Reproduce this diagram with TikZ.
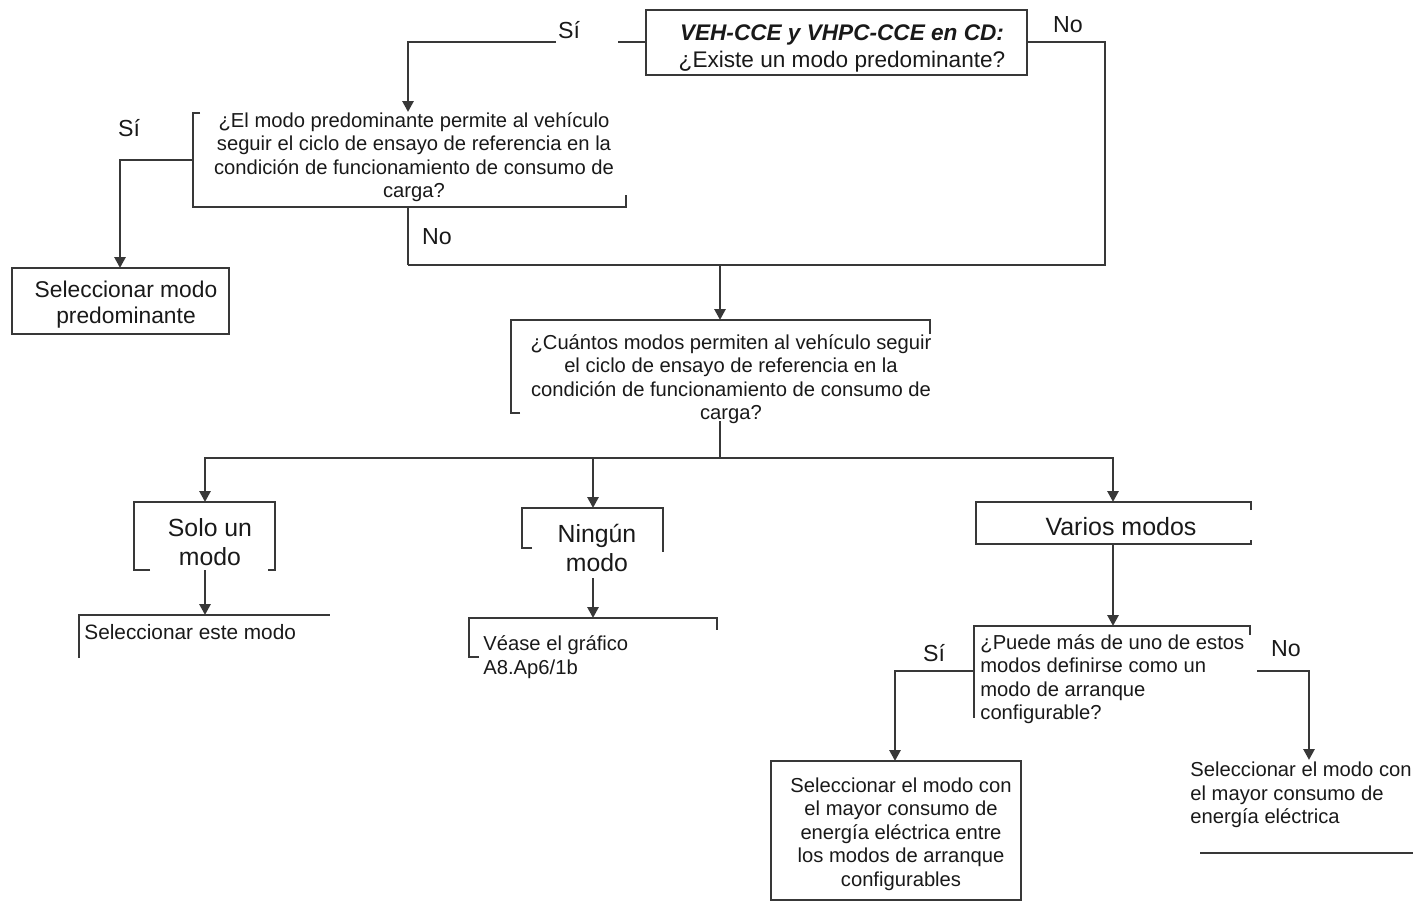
\documentclass[tikz,border=0pt]{standalone}
\usepackage{fontspec}
\setmainfont{Liberation Sans}
\usetikzlibrary{arrows.meta}
\begin{document}
\begin{tikzpicture}[x=0.5pt,y=-0.5pt,
  ln/.style={draw=black!78, line width=1.4pt},
  arr/.style={ln, -{Triangle[width=5.5pt,length=5.5pt]}},
  txt/.style={inner sep=0pt, align=center, text=black!90, font=\fontsize{10.1}{11.75}\selectfont},
  txtl/.style={txt, align=left},
  lbl/.style={inner sep=0pt, text=black!90, font=\fontsize{11.6}{13}\selectfont}]
\useasboundingbox (0,0) rectangle (1413,901);

% ---------- texts ----------
\node[txt, font=\fontsize{11.3}{13.5}\selectfont] (top) at (842,48)
  {\textbf{\textit{VEH-CCE y VHPC-CCE en CD:}}\\¿Existe un modo predominante?};
\node[txt] (q1) at (414,157)
  {¿El modo predominante permite al vehículo\\seguir el ciclo de ensayo de referencia en la\\condición de funcionamiento de consumo de\\carga?};
\node[txt, font=\fontsize{11.4}{13}\selectfont] (sm) at (126,305) {Seleccionar modo\\predominante};
\node[txt] (q2) at (731,379)
  {¿Cuántos modos permiten al vehículo seguir\\el ciclo de ensayo de referencia en la\\condición de funcionamiento de consumo de\\carga?};
\node[txt, font=\fontsize{12.4}{14.5}\selectfont] (solo) at (210,542) {Solo un\\modo};
\node[txt, font=\fontsize{12.4}{14.5}\selectfont] (ning) at (597,548) {Ningún\\modo};
\node[txt, font=\fontsize{12.5}{14.5}\selectfont] (var) at (1121,527) {Varios modos};
\node[txtl, anchor=west, font=\fontsize{10.4}{12}\selectfont] (este) at (84,632) {Seleccionar este modo};
\node[txtl, anchor=west] (vease) at (483,657) {Véase el gráfico\\A8.Ap6/1b};
\node[txtl, anchor=west] (q3) at (980,679)
  {¿Puede más de uno de estos\\modos definirse como un\\modo de arranque\\configurable?};
\node[txt, font=\fontsize{10.1}{11.75}\selectfont] (selc) at (901,834)
  {Seleccionar el modo con\\el mayor consumo de\\energía eléctrica entre\\los modos de arranque\\configurables};
\node[txtl, anchor=west, font=\fontsize{10.1}{11.75}\selectfont] (selm) at (1190,795)
  {Seleccionar el modo con\\el mayor consumo de\\energía eléctrica};

% ---------- labels ----------
\node[lbl] (l1) at (569,30) {Sí};
\node[lbl] (l2) at (1068,25) {No};
\node[lbl] (l3) at (129,128) {Sí};
\node[lbl] (l4) at (437,237) {No};
\node[lbl] (l5) at (934,653) {Sí};
\node[lbl] (l6) at (1286,649) {No};

% ---------- frames ----------
\draw[ln] (646,10) rectangle (1027,75);
\draw[ln] (200,113) -- (193,113) -- (193,207) -- (626,207) -- (626,195);
\draw[ln] (12,268) rectangle (229,334);
\draw[ln] (520,413) -- (511,413) -- (511,320) -- (930,320) -- (930,334);
\draw[ln] (150,570) -- (134,570) -- (134,502) -- (275,502) -- (275,570) -- (268,570);
\draw[ln] (79,658) -- (79,615) -- (330,615);
\draw[ln] (532,548) -- (522,548) -- (522,508) -- (663,508) -- (663,552);
\draw[ln] (479,657) -- (469,657) -- (469,618) -- (717,618) -- (717,630);
\draw[ln] (1251,510) -- (1251,502) -- (976,502) -- (976,544) -- (1251,544) -- (1251,540);
\draw[ln] (1250,635) -- (1250,626) -- (974,626) -- (974,718);
\draw[ln] (771,761) rectangle (1021,900);
\draw[ln] (1200,853) -- (1413,853);

% ---------- anchor coordinates ----------
\coordinate (topW) at (646,42);
\coordinate (topE) at (1027,42);
\coordinate (gapR) at (618,42);
\coordinate (gapL) at (556,42);
\coordinate (q1N) at (408,112);
\coordinate (q1W) at (193,160);
\coordinate (q1S) at (408,207);
\coordinate (smN) at (120,268);
\coordinate (joinA) at (408,265);
\coordinate (joinB) at (720,265);
\coordinate (q2N) at (720,320);
\coordinate (q2S) at (720,421);
\coordinate (busC) at (720,458);
\coordinate (soloN) at (205,502);
\coordinate (soloS) at (205,570);
\coordinate (ningN) at (593,508);
\coordinate (ningS) at (593,578);
\coordinate (varN) at (1113,502);
\coordinate (varS) at (1113,544);
\coordinate (esteN) at (205,615);
\coordinate (veaseN) at (593,618);
\coordinate (q3N) at (1113,626);
\coordinate (q3W) at (974,671);
\coordinate (q3E) at (1257,671);
\coordinate (selcN) at (895,761);
\coordinate (selmN) at (1309,760);

% ---------- connectors ----------
\draw[ln] (topW) -- (gapR);
\draw[arr] (gapL) -| (q1N);
\draw[ln] (topE) -| (1105,265) -- (joinA);
\draw[ln] (q1S) -- (joinA);
\draw[arr] (joinB) -- (q2N);
\draw[arr] (q1W) -| (smN);
\draw[ln] (q2S) -- (busC);
\draw[arr] (busC) -| (soloN);
\draw[arr] (busC) -| (varN);
\draw[arr] (ningN |- busC) -- (ningN);
\draw[arr] (soloS) -- (esteN);
\draw[arr] (ningS) -- (veaseN);
\draw[arr] (varS) -- (q3N);
\draw[arr] (q3W) -| (selcN);
\draw[arr] (q3E) -| (selmN);
\end{tikzpicture}
\end{document}
